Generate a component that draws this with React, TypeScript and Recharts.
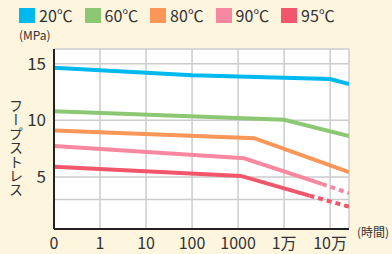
import React from 'react';
import { LineChart, Line, XAxis, YAxis, CartesianGrid } from 'recharts';

// x positions are log-hour steps: 0 -> "0", 1 -> "1", ... 6 -> "10万"
const xTicks = [0, 1, 2, 3, 4, 5, 6];
const xTickLabels = ['0', '1', '10', '100', '1000', '1万', '10万'];
const yTicks = [3, 5, 10, 15];

const legendNames = ['20℃', '60℃', '80℃', '90℃', '95℃'];
const colors = ['#00b9ef', '#8cc873', '#f99658', '#f7889f', '#f2566a'];

// [x, MPa]
const s20 = [[0, 14.65], [3, 13.98], [6, 13.65], [6.41, 13.2]];
const s60 = [[0, 10.8], [5, 10.05], [6.41, 8.6]];
const s80 = [[0, 9.1], [4.35, 8.42], [6.41, 5.42]];
const s90 = [[0, 7.74], [4.13, 6.65], [5.82, 4.38]];
const s90Est = [[5.82, 4.38], [6.41, 3.56]];
const s95 = [[0, 5.9], [4.06, 5.09], [5.55, 3.35]];
const s95Est = [[5.55, 3.35], [6.41, 2.37]];

const toRows = (pts: number[][]) => pts.map(([x, y]) => ({ x, y }));

const textColor = '#333';

const App = () => {
    return (
        <div style={{ position: 'fixed', left: 0, top: 0, width: 392, height: 254, background: '#fdf5de', fontFamily: '"Noto Sans CJK JP", sans-serif', color: textColor, overflow: 'hidden' }}>
            {/* legend */}
            <div style={{ position: 'absolute', left: 19, top: 4, display: 'flex' }}>
                {legendNames.map((name, i) => (
                    <div key={name} style={{ width: 65.5, display: 'flex', alignItems: 'center', gap: 4, height: 22 }}>
                        <span style={{ width: 16, height: 15, background: colors[i], display: 'inline-block' }} />
                        <span style={{ fontSize: 16, lineHeight: '22px' }}>{name}</span>
                    </div>
                ))}
            </div>
            <div style={{ position: 'absolute', left: 19, top: 27, fontSize: 12, lineHeight: '16px' }}>(MPa)</div>
            <div style={{ position: 'absolute', left: 8, top: 99, fontSize: 14, lineHeight: '16px', writingMode: 'vertical-rl' }}>フープストレス</div>
            <div style={{ position: 'absolute', left: 357, top: 224, fontSize: 12, lineHeight: '16px' }}>(時間)</div>

            <LineChart width={392} height={254} margin={{ top: 49, right: 43, bottom: 0, left: 24 }} style={{ position: 'absolute', left: 0, top: 0 }}>
                <CartesianGrid fill="#fff" stroke="#cccccc" strokeWidth={1.5} />
                <XAxis
                    type="number"
                    dataKey="x"
                    domain={[0, 6.41]}
                    ticks={xTicks}
                    interval={0}
                    tickFormatter={(v) => xTickLabels[v]}
                    axisLine={{ stroke: '#222', strokeWidth: 2 }}
                    tickLine={false}
                    tickMargin={3}
                    tick={{ fill: textColor, fontSize: 16 }}
                    height={25}
                    allowDataOverflow
                />
                <YAxis
                    type="number"
                    domain={[0.4, 16.3]}
                    ticks={yTicks}
                    interval={0}
                    tickFormatter={(v) => (v === 3 ? '' : String(v))}
                    axisLine={{ stroke: '#222', strokeWidth: 2 }}
                    tickLine={false}
                    tick={{ fill: textColor, fontSize: 17 }}
                    width={30}
                    allowDataOverflow
                />
                <Line data={toRows(s20)} dataKey="y" stroke={colors[0]} strokeWidth={4} dot={false} isAnimationActive={false} />
                <Line data={toRows(s60)} dataKey="y" stroke={colors[1]} strokeWidth={4} dot={false} isAnimationActive={false} />
                <Line data={toRows(s80)} dataKey="y" stroke={colors[2]} strokeWidth={4} dot={false} isAnimationActive={false} />
                <Line data={toRows(s90)} dataKey="y" stroke={colors[3]} strokeWidth={4} dot={false} isAnimationActive={false} />
                <Line data={toRows(s90Est)} dataKey="y" stroke={colors[3]} strokeWidth={4} strokeDasharray="5 4" dot={false} isAnimationActive={false} />
                <Line data={toRows(s95)} dataKey="y" stroke={colors[4]} strokeWidth={4} dot={false} isAnimationActive={false} />
                <Line data={toRows(s95Est)} dataKey="y" stroke={colors[4]} strokeWidth={4} strokeDasharray="5 4" dot={false} isAnimationActive={false} />
            </LineChart>
        </div>
    );
};

export default App;
